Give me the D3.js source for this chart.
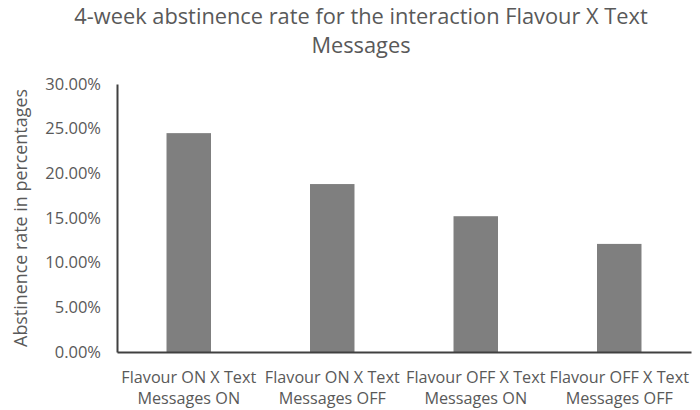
<!DOCTYPE html>
<html><head><meta charset="utf-8">
<script src="https://cdn.jsdelivr.net/npm/d3@7"></script>
<style>body{margin:0;background:#fff}svg{display:block}text{font-family:"Open Sans",Lato,sans-serif;fill:#595959}</style>
</head><body><svg id="c" width="700" height="410"></svg>
<script>
const categories = [["Flavour ON X Text","Messages ON"],["Flavour ON X Text","Messages OFF"],["Flavour OFF X Text","Messages ON"],["Flavour OFF X Text","Messages OFF"]];
const values = [0.245, 0.188, 0.152, 0.121];
const yTicks = [0, 0.05, 0.10, 0.15, 0.20, 0.25, 0.30];
const titleLines = ["4-week abstinence rate for the interaction Flavour X Text","Messages"];
const yLabel = "Abstinence rate in percentages";

const svg = d3.select("#c");
const m = {l:117, r:9, t:84, b:58};
const W = 700, H = 410;
const x = d3.scaleBand().domain(d3.range(values.length)).range([m.l, W-m.r]).paddingInner(0.69).paddingOuter(0.345);
const y = d3.scaleLinear().domain([0,0.30]).range([H-m.b, m.t]);

svg.append("g").selectAll("rect").data(values).join("rect")
  .attr("x",(d,i)=>x(i)).attr("width",x.bandwidth())
  .attr("y",d=>y(d)).attr("height",d=>y(0)-y(d)).attr("fill","#7f7f7f");

const ya = svg.append("g").attr("transform",`translate(${m.l},0)`)
  .call(d3.axisLeft(y).tickValues(yTicks).tickSize(0).tickPadding(16).tickFormat(d3.format(".2%")));
ya.select(".domain").attr("stroke","#404040").attr("stroke-width",2);
ya.selectAll("text").style("font-size","16.5px").attr("fill","#595959");

const xa = svg.append("g").attr("transform",`translate(0,${y(0)})`)
  .call(d3.axisBottom(x).tickSize(0).tickFormat(""));
xa.select(".domain").attr("stroke","#404040").attr("stroke-width",2);
categories.forEach((c,i)=>{
  const t = svg.append("text").attr("text-anchor","middle").style("font-size","16.2px")
    .attr("transform",`translate(${x(i)+x.bandwidth()/2},383)`);
  c.forEach((s,j)=>t.append("tspan").attr("x",0).attr("y",j*21).text(s));
});

const tt = svg.append("text").attr("text-anchor","middle").style("font-size","21.8px");
titleLines.forEach((s,j)=>tt.append("tspan").attr("x",361).attr("y",24+j*29).text(s));

svg.append("text").attr("text-anchor","middle").style("font-size","17.9px")
  .attr("transform",`translate(27,${(y(0)+y(0.30))/2}) rotate(-90)`).text(yLabel);
</script></body></html>
